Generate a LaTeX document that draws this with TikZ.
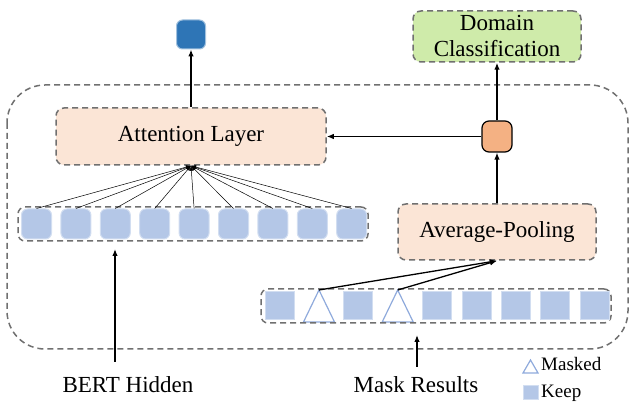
\documentclass[tikz,border=0pt]{standalone}
\usepackage{fontspec}
\setmainfont{Liberation Serif}
\usetikzlibrary{arrows.meta}
\definecolor{dashgray}{HTML}{707070}
\definecolor{cellblue}{HTML}{B4C7E7}
\definecolor{celledge}{HTML}{D2DEF1}
\definecolor{triblue}{HTML}{8FAADC}
\definecolor{peach}{HTML}{FBE5D6}
\definecolor{outblue}{HTML}{2E75B6}
\definecolor{poolorange}{HTML}{F4B183}
\definecolor{domgreen}{HTML}{CFEBAA}
\tikzset{
  dashline/.style={draw=dashgray, line width=1.5pt, dash pattern=on 6pt off 4pt},
  dashbox/.style={dashline, rounded corners=38pt},
  rowbox/.style={dashline, rounded corners=7pt, minimum width=350pt, minimum height=34pt, inner sep=0pt},
  peachbox/.style={dashline, rounded corners=8pt, fill=peach, inner sep=0pt, font=\fontsize{23}{27}\selectfont},
  greenbox/.style={dashline, rounded corners=8pt, fill=domgreen, inner sep=0pt, align=center, font=\fontsize{23}{27}\selectfont},
  hidcell/.style={fill=cellblue, draw=celledge, line width=1pt, rounded corners=6pt, minimum size=30pt, inner sep=0pt},
  keepcell/.style={fill=cellblue, draw=celledge, line width=1pt, minimum width=29pt, minimum height=28pt, inner sep=0pt},
  maskedtri/.style={draw=triblue, line width=1.2pt, fill=white, line join=miter},
  outsq/.style={fill=outblue, draw=outblue!45, line width=1pt, rounded corners=6pt, minimum size=29pt, inner sep=0pt},
  poolsq/.style={fill=poolorange, draw=black, line width=1.2pt, rounded corners=7pt, minimum width=30pt, minimum height=31pt, inner sep=0pt},
  arr/.style={-{Latex[length=7pt,width=5.5pt]}, line width=1.3pt},
  fanarr/.style={-{Latex[length=5pt,width=4pt]}, line width=0.5pt},
  lbl/.style={font=\fontsize{23}{27}\selectfont, inner sep=0pt},
  legendlbl/.style={font=\fontsize{19}{22}\selectfont, inner sep=0pt, anchor=base west},
}

\begin{document}
\begin{tikzpicture}[x=1pt, y=-1pt]
\useasboundingbox (0,0) rectangle (630,406);
\draw[dashbox] (7,85) rectangle (628,349);
% outputs and layers
\node[outsq] (out) at (191,34.5) {};
\node[greenbox, minimum width=168pt, minimum height=51pt] (dom) at (497,36.5) {Domain\\[-1pt]Classification};
\node[peachbox, minimum width=270pt, minimum height=57pt] (att) at (191,136.5) {Attention Layer};
\node[poolsq] (pool) at (497,136.5) {};
\node[peachbox, minimum width=198pt, minimum height=56pt] (avg) at (497,232) {Average-Pooling};
% hidden states
\node[rowbox] (hrow) at (193,224) {};
\node[hidcell] (h1) at (36.5,224) {};
\node[hidcell] (h2) at (75.9,224) {};
\node[hidcell] (h3) at (115.3,224) {};
\node[hidcell] (h4) at (154.7,224) {};
\node[hidcell] (h5) at (194.1,224) {};
\node[hidcell] (h6) at (233.5,224) {};
\node[hidcell] (h7) at (272.9,224) {};
\node[hidcell] (h8) at (312.3,224) {};
\node[hidcell] (h9) at (351.7,224) {};
% mask results
\coordinate (m2) at (319,290);
\coordinate (m4) at (397.7,290);
\draw[maskedtri] (m2) -- ++(-15.5,32) -- ++(31,0) -- cycle;
\draw[maskedtri] (m4) -- ++(-15.5,32) -- ++(31,0) -- cycle;
\node[rowbox] (mrow) at (436,306) {};
\node[keepcell] (m1) at (279.5,306) {};
\node[keepcell] (m3) at (358.3,306) {};
\node[keepcell] (m5) at (437.1,306) {};
\node[keepcell] (m6) at (476.5,306) {};
\node[keepcell] (m7) at (515.9,306) {};
\node[keepcell] (m8) at (555.3,306) {};
\node[keepcell] (m9) at (594.7,306) {};
% connectors
\draw[arr] (att.north) -- (out.south);
\draw[arr] (pool.north) -- (dom.south);
\draw[arr] (pool.west) -- (att.east);
\draw[arr] (avg.north) -- (pool.south);
\draw[arr] (m2) -- (avg.south);
\draw[arr] (m4) -- (avg.south);
\draw[fanarr] (h1.north) -- (att.south);
\draw[fanarr] (h2.north) -- (att.south);
\draw[fanarr] (h3.north) -- (att.south);
\draw[fanarr] (h4.north) -- (att.south);
\draw[fanarr] (h5.north) -- (att.south);
\draw[fanarr] (h6.north) -- (att.south);
\draw[fanarr] (h7.north) -- (att.south);
\draw[fanarr] (h8.north) -- (att.south);
\draw[fanarr] (h9.north) -- (att.south);
% inputs
\coordinate (bertin) at (115,362);
\coordinate (bertend) at (115,249);
\draw[arr] (bertin) -- (bertend);
\node[lbl, anchor=base] (bert) at (128,393) {BERT Hidden};
\coordinate (maskin) at (417,367);
\coordinate (maskend) at (417,335);
\draw[arr] (maskin) -- (maskend);
\node[lbl, anchor=base] (maskres) at (416,393) {Mask Results};
% legend
\coordinate (legtri) at (530.5,360);
\draw[maskedtri] (legtri) -- ++(-7.5,13) -- ++(15,0) -- cycle;
\node[legendlbl] (legmask) at (541,371) {Masked};
\node[keepcell, minimum width=15pt, minimum height=14pt] (legkeep) at (530.5,393) {};
\node[legendlbl] (legkeeplbl) at (541,398) {Keep};
\end{tikzpicture}
\end{document}
